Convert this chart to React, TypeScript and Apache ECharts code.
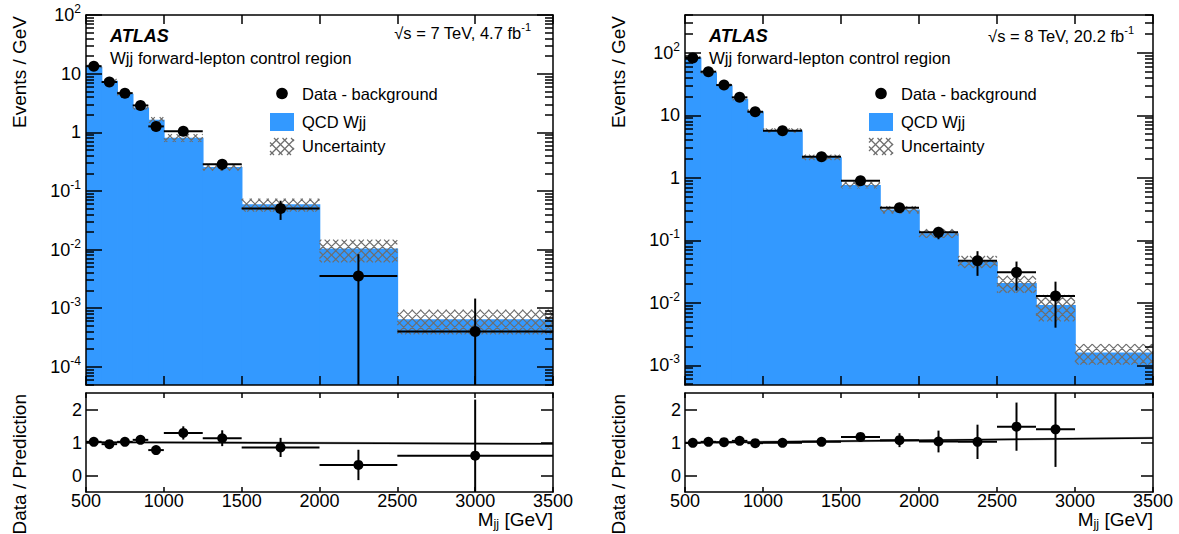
import { useEffect, useRef } from 'react';
import * as echarts from 'echarts';

const FONT = '"Liberation Sans", Arial, Helvetica, sans-serif';
const BLUE = '#3399ff';
const HATCH = '#6e6e6e';

// ---------- common axis values ----------
const xRange = [500, 3500];
const xInterval = 500;
const ratioRange = [-0.5, 2.5];
const ratioTicks = [0, 1, 2];

// ---------- 7 TeV panel ----------
const edges7 = [500, 600, 700, 800, 900, 1000, 1250, 1500, 2000, 2500, 3500];
const pred7 = [13.1, 7.6, 4.55, 2.65, 1.63, 0.81, 0.255, 0.059, 0.0104, 0.00065];
const unc7 = [0.07, 0.07, 0.08, 0.08, 0.11, 0.15, 0.13, 0.25, 0.42, 0.45];
const dataX7 = [550, 650, 750, 850, 950, 1125, 1375, 1750, 2250, 3000];
const data7 = [13.4, 7.2, 4.65, 2.87, 1.26, 1.04, 0.284, 0.05, 0.00355, 0.0004];
const dataErr7 = [0.67, 0.36, 0.28, 0.21, 0.11, 0.16, 0.06, 0.018, 0.0048, 0.00106];
const ratio7 = [1.02, 0.95, 1.02, 1.08, 0.77, 1.29, 1.13, 0.85, 0.32, 0.6];
const ratioErr7 = [0.05, 0.05, 0.06, 0.08, 0.07, 0.2, 0.24, 0.29, 0.46, 1.7];
const fit7 = [1.01, 0.96];
const yRange7 = [4.9e-5, 100];
const yMajor7 = [1e-4, 1e-3, 1e-2, 1e-1, 1, 10, 100];

// ---------- 8 TeV panel ----------
const edges8 = [500, 600, 700, 800, 900, 1000, 1250, 1500, 1750, 2000, 2250, 2500, 2750, 3000, 3500];
const pred8 = [84, 49, 30.2, 18.5, 11.6, 5.73, 2.14, 0.77, 0.31, 0.13, 0.046, 0.0207, 0.0092, 0.0016];
const unc8 = [0.05, 0.05, 0.06, 0.06, 0.07, 0.08, 0.1, 0.12, 0.13, 0.16, 0.22, 0.3, 0.45, 0.36];
const dataX8 = [550, 650, 750, 850, 950, 1125, 1375, 1625, 1875, 2125, 2375, 2625, 2875];
const data8 = [83, 49.9, 30.5, 19.4, 11.4, 5.67, 2.18, 0.9, 0.333, 0.134, 0.047, 0.0307, 0.0129];
const dataErr8 = [1.5, 1.2, 0.9, 0.7, 0.5, 0.25, 0.1, 0.05, 0.03, 0.03, 0.02, 0.015, 0.0089];
const ratio8 = [0.99, 1.02, 1.01, 1.05, 0.98, 0.99, 1.02, 1.17, 1.07, 1.03, 1.02, 1.48, 1.4];
const ratioErr8 = [0.03, 0.03, 0.03, 0.04, 0.04, 0.05, 0.05, 0.07, 0.21, 0.33, 0.52, 0.73, 1.14];
const fit8 = [0.99, 1.14];
const yRange8 = [4.84e-4, 403];
const yMajor8 = [1e-3, 1e-2, 1e-1, 1, 10, 100];

// ---------- texts ----------
const atlasLabel = 'ATLAS';
const regionLabel = 'Wjj forward-lepton control region';
const energy7 = '√s = 7 TeV, 4.7 fb{sup|-1}';
const energy8 = '√s = 8 TeV, 20.2 fb{sup|-1}';
const legendLabels = ['Data - background', 'QCD Wjj', 'Uncertainty'];
const yTitleMain = 'Events / GeV';
const yTitleRatio = 'Data / Prediction';
const xTitle = '{b|M}{sub|jj}{b| [GeV]}';

function minorTicks(min: number, max: number): number[] {
  const out: number[] = [];
  for (let e = Math.floor(Math.log10(min)); e <= Math.ceil(Math.log10(max)); e++) {
    for (let m = 2; m <= 9; m++) {
      const v = m * Math.pow(10, e);
      if (v >= min && v <= max) out.push(v);
    }
  }
  return out;
}

const HP = 8.5;
function hatchSegments(x0: number, y0: number, x1: number, y1: number): number[][] {
  const segs: number[][] = [];
  for (let k = Math.ceil((y0 - x1) / HP); k * HP <= y1 - x0; k++) {
    const c = k * HP;
    const xa = Math.max(x0, y0 - c);
    const xb = Math.min(x1, y1 - c);
    if (xb > xa) segs.push([xa, xa + c, xb, xb + c]);
  }
  for (let k = Math.ceil((x0 + y0) / HP); k * HP <= x1 + y1; k++) {
    const c = k * HP;
    const xa = Math.max(x0, c - y1);
    const xb = Math.min(x1, c - y0);
    if (xb > xa) segs.push([xa, c - xa, xb, c - xb]);
  }
  return segs;
}
function hatchPath(x0: number, y0: number, x1: number, y1: number): string {
  return hatchSegments(x0, y0, x1, y1)
    .map((s) => `M${s[0].toFixed(2)} ${s[1].toFixed(2)}L${s[2].toFixed(2)} ${s[3].toFixed(2)}`)
    .join('');
}

const renderFill = (params: any, api: any) => {
  const cs = params.coordSys;
  const a = api.coord([api.value(0), api.value(2)]);
  const b = api.coord([api.value(1), api.value(2)]);
  const bottom = cs.y + cs.height;
  const top = Math.max(cs.y, Math.min(bottom, a[1]));
  const rightEdge = Math.min(cs.x + cs.width, b[0] + 0.8);
  return {
    type: 'rect',
    shape: { x: a[0], y: top, width: rightEdge - a[0], height: bottom - top },
    style: { fill: BLUE },
  };
};

const renderHatch = (params: any, api: any) => {
  const cs = params.coordSys;
  const lo = api.value(0), hi = api.value(1), v = api.value(2), u = api.value(3);
  const a = api.coord([lo, v * (1 + u)]);
  const b = api.coord([hi, v * (1 - u)]);
  const y0 = Math.max(cs.y, a[1]);
  const y1 = Math.min(cs.y + cs.height, b[1]);
  if (y1 <= y0) return null;
  return {
    type: 'path',
    shape: { pathData: hatchPath(a[0], y0, b[0], y1) },
    style: { stroke: HATCH, lineWidth: 1.2, fill: 'none' },
  };
};

const makeRenderPoints = (isLog: boolean, r: number) => (params: any, api: any) => {
  const cs = params.coordSys;
  const x = api.value(0), y = api.value(1), lo = api.value(2), hi = api.value(3), e = api.value(4);
  const c = api.coord([x, y]);
  const left = api.coord([lo, y])[0];
  const right = api.coord([hi, y])[0];
  const top = Math.max(cs.y, api.coord([x, y + e])[1]);
  const bottom = isLog && y - e <= 0 ? cs.y + cs.height : Math.min(cs.y + cs.height, api.coord([x, y - e])[1]);
  const ls = { stroke: '#000', lineWidth: 2 };
  return {
    type: 'group',
    children: [
      { type: 'line', shape: { x1: left, y1: c[1], x2: right, y2: c[1] }, style: ls },
      { type: 'line', shape: { x1: c[0], y1: top, x2: c[0], y2: bottom }, style: ls },
      { type: 'circle', shape: { cx: c[0], cy: c[1], r }, style: { fill: '#000' } },
    ],
  };
};

const renderFit = (params: any, api: any) => {
  const x0 = api.value(0), f0 = api.value(1), x1 = api.value(2), f1 = api.value(3);
  const w = 0.035;
  const p1 = api.coord([x0, f0 + w]);
  const p2 = api.coord([x1, f1 + w]);
  const p3 = api.coord([x1, f1 - w]);
  const p4 = api.coord([x0, f0 - w]);
  const a = api.coord([x0, f0]);
  const b = api.coord([x1, f1]);
  return {
    type: 'group',
    children: [
      { type: 'polygon', shape: { points: [p1, p2, p3, p4] }, style: { fill: 'rgba(90,90,90,0.55)' } },
      { type: 'line', shape: { x1: a[0], y1: a[1], x2: b[0], y2: b[1] }, style: { stroke: '#000', lineWidth: 1.5 } },
    ],
  };
};

const lineStyle = { color: '#000', width: 1.5 };

function logLabel(v: number): string {
  const e = Math.round(Math.log10(v));
  if (e === 0) return '1';
  if (e === 1) return '10';
  return `10{sup|${e}}`;
}

interface Panel {
  left: number;
  width: number;
  edges: number[];
  pred: number[];
  unc: number[];
  dx: number[];
  dy: number[];
  de: number[];
  rv: number[];
  re: number[];
  fit: number[];
  yRange: number[];
  yMajor: number[];
  energy: string;
  energyX: number;
  energyY: number;
  xo: number;
}

const MAIN_TOP = 15;
const MAIN_H = 370;
const RATIO_TOP = 393;
const RATIO_H = 99;

function buildPanel(p: number, cfg: Panel) {
  const g = p * 3;
  const xb = p * 5;
  const yb = p * 6;
  const grids = [
    { left: cfg.left, top: MAIN_TOP, width: cfg.width, height: MAIN_H },
    { left: cfg.left, top: MAIN_TOP, width: cfg.width, height: MAIN_H },
    { left: cfg.left, top: RATIO_TOP, width: cfg.width, height: RATIO_H },
  ];
  const xAxisDef = (grid: number, pos: string, len: number, labels: boolean) => ({
    gridIndex: grid,
    type: 'value',
    position: pos,
    min: xRange[0],
    max: xRange[1],
    interval: xInterval,
    z: 10,
    axisLine: { show: true, onZero: false, lineStyle },
    axisTick: { show: true, inside: true, length: len, lineStyle },
    axisLabel: labels
      ? {
          show: true,
          margin: 1,
          color: '#000',
          fontSize: 18,
          fontFamily: FONT,
          lineHeight: 16,
          formatter: (v: number) => String(v),
        }
      : { show: false },
    splitLine: { show: false },
  });
  const xAxes = [
    xAxisDef(g, 'bottom', 9, false),
    xAxisDef(g, 'top', 9, false),
    { gridIndex: g + 1, type: 'value', min: xRange[0], max: xRange[1], show: false },
    xAxisDef(g + 2, 'bottom', 5, true),
    xAxisDef(g + 2, 'top', 5, false),
  ];
  const minors = minorTicks(cfg.yRange[0], cfg.yRange[1]);
  const logAxis = (grid: number, pos: string, major: boolean, labels: boolean) => ({
    gridIndex: grid,
    type: 'log',
    logBase: 10,
    position: pos,
    min: cfg.yRange[0],
    max: cfg.yRange[1],
    z: 10,
    axisLine: { show: major, onZero: false, lineStyle },
    axisTick: {
      show: true,
      inside: true,
      length: major ? 16 : 8,
      customValues: major ? cfg.yMajor : minors,
      lineStyle,
    },
    axisLabel: labels
      ? {
          show: true,
          customValues: cfg.yMajor,
          formatter: logLabel,
          margin: 5,
          color: '#000',
          fontSize: 18,
          fontFamily: FONT,
          lineHeight: 24,
          rich: {
            sup: { fontSize: 12, fontFamily: FONT, color: '#000', verticalAlign: 'top', lineHeight: 12 },
          },
        }
      : { show: false },
    splitLine: { show: false },
  });
  const ratioAxis = (pos: string, labels: boolean) => ({
    gridIndex: g + 2,
    type: 'value',
    position: pos,
    min: ratioRange[0],
    max: ratioRange[1],
    z: 10,
    axisLine: { show: true, onZero: false, lineStyle },
    axisTick: { show: true, inside: true, length: 12, customValues: ratioTicks, lineStyle },
    axisLabel: labels
      ? { show: true, customValues: ratioTicks, margin: 4, color: '#000', fontSize: 18, fontFamily: FONT }
      : { show: false },
    splitLine: { show: false },
  });
  const yAxes = [
    logAxis(g, 'left', true, true),
    logAxis(g, 'right', true, false),
    logAxis(g + 1, 'left', false, false),
    logAxis(g + 1, 'right', false, false),
    ratioAxis('left', true),
    ratioAxis('right', false),
  ];

  const binData = cfg.pred.map((v, i) => [cfg.edges[i], cfg.edges[i + 1], v]);
  const uncData = cfg.pred.map((v, i) => [cfg.edges[i], cfg.edges[i + 1], v, cfg.unc[i]]);
  const ptData = cfg.dx.map((x, i) => [x, cfg.dy[i], cfg.edges[i], cfg.edges[i + 1], cfg.de[i]]);
  const rtData = cfg.dx.map((x, i) => [x, cfg.rv[i], cfg.edges[i], cfg.edges[i + 1], cfg.re[i]]);

  const series = [
    {
      type: 'custom',
      coordinateSystem: 'cartesian2d',
      xAxisIndex: xb,
      yAxisIndex: yb,
      renderItem: renderFill,
      encode: { x: [0, 1], y: 2 },
      data: binData,
      z: 1,
      silent: true,
    },
    {
      type: 'custom',
      coordinateSystem: 'cartesian2d',
      xAxisIndex: xb,
      yAxisIndex: yb,
      renderItem: renderHatch,
      encode: { x: [0, 1], y: 2 },
      data: uncData,
      z: 2,
      silent: true,
    },
    {
      type: 'custom',
      coordinateSystem: 'cartesian2d',
      xAxisIndex: xb,
      yAxisIndex: yb,
      renderItem: makeRenderPoints(true, 5.5),
      encode: { x: [0, 2, 3], y: 1 },
      data: ptData,
      z: 3,
      silent: true,
    },
    {
      type: 'custom',
      coordinateSystem: 'cartesian2d',
      xAxisIndex: xb + 3,
      yAxisIndex: yb + 4,
      renderItem: renderFit,
      encode: { x: [0, 2], y: [1, 3] },
      data: [[xRange[0], cfg.fit[0], xRange[1], cfg.fit[1]]],
      z: 2,
      silent: true,
    },
    {
      type: 'custom',
      coordinateSystem: 'cartesian2d',
      xAxisIndex: xb + 3,
      yAxisIndex: yb + 4,
      renderItem: makeRenderPoints(false, 5),
      encode: { x: [0, 2, 3], y: 1 },
      data: rtData,
      z: 3,
      silent: true,
    },
  ];

  const xo = cfg.xo;
  const right = cfg.left + cfg.width;
  const graphics: any[] = [
    {
      type: 'text',
      x: 110 + xo,
      y: 35.5,
      style: { text: atlasLabel, font: `italic bold 18px ${FONT}`, fill: '#000', textAlign: 'left', textVerticalAlign: 'middle' },
    },
    {
      type: 'text',
      x: 110 + xo,
      y: 58.5,
      style: { text: regionLabel, font: `16.8px ${FONT}`, fill: '#000', textAlign: 'left', textVerticalAlign: 'middle' },
    },
    {
      type: 'text',
      x: cfg.energyX,
      y: cfg.energyY,
      style: {
        text: cfg.energy,
        font: `16.5px ${FONT}`,
        fill: '#000',
        textAlign: 'right',
        textVerticalAlign: 'middle',
        lineHeight: 22,
        rich: { sup: { fontSize: 11, fontFamily: FONT, fill: '#000', verticalAlign: 'top', lineHeight: 11 } },
      },
    },
    { type: 'circle', shape: { cx: 282 + xo, cy: 93.5, r: 5.8 }, style: { fill: '#000' } },
    { type: 'rect', shape: { x: 270 + xo, y: 113, width: 24, height: 18 }, style: { fill: BLUE } },
    ...hatchSegments(270 + xo, 138, 294 + xo, 155).map((s) => ({
      type: 'line',
      shape: { x1: s[0], y1: s[1], x2: s[2], y2: s[3] },
      style: { stroke: HATCH, lineWidth: 1.2 },
    })),
    ...legendLabels.map((t, i) => ({
      type: 'text',
      x: 302 + xo,
      y: [93.5, 121.5, 145.5][i],
      style: { text: t, font: `16.5px ${FONT}`, fill: '#000', textAlign: 'left', textVerticalAlign: 'middle' },
    })),
    {
      type: 'text',
      x: 19 + xo,
      y: 16,
      rotation: Math.PI / 2,
      style: { text: yTitleMain, font: `19px ${FONT}`, fill: '#000', textAlign: 'right', textVerticalAlign: 'middle' },
    },
    {
      type: 'text',
      x: 19 + xo,
      y: 394,
      rotation: Math.PI / 2,
      style: { text: yTitleRatio, font: `19px ${FONT}`, fill: '#000', textAlign: 'right', textVerticalAlign: 'middle' },
    },
    {
      type: 'text',
      x: right,
      y: 510,
      style: {
        text: xTitle,
        fill: '#000',
        textAlign: 'right',
        textVerticalAlign: 'top',
        rich: {
          b: { fontSize: 19, fontFamily: FONT, fill: '#000', verticalAlign: 'top', lineHeight: 20 },
          sub: { fontSize: 12.5, fontFamily: FONT, fill: '#000', verticalAlign: 'bottom', lineHeight: 10 },
        },
      },
    },
  ];
  return { grids, xAxes, yAxes, series, graphics };
}

export default function App() {
  const ref = useRef<HTMLDivElement>(null);
  useEffect(() => {
    if (!ref.current) return;
    const chart = echarts.init(ref.current, null, { renderer: 'svg' });
    const panels = [
      buildPanel(0, {
        left: 86, width: 467, edges: edges7, pred: pred7, unc: unc7, dx: dataX7, dy: data7, de: dataErr7,
        rv: ratio7, re: ratioErr7, fit: fit7, yRange: yRange7, yMajor: yMajor7,
        energy: energy7, energyX: 531, energyY: 32.5, xo: 0,
      }),
      buildPanel(1, {
        left: 685, width: 468, edges: edges8, pred: pred8, unc: unc8, dx: dataX8, dy: data8, de: dataErr8,
        rv: ratio8, re: ratioErr8, fit: fit8, yRange: yRange8, yMajor: yMajor8,
        energy: energy8, energyX: 1134, energyY: 35.5, xo: 599,
      }),
    ];
    const option: any = {
      animation: false,
      grid: panels.flatMap((p) => p.grids),
      xAxis: panels.flatMap((p) => p.xAxes),
      yAxis: panels.flatMap((p) => p.yAxes),
      series: panels.flatMap((p) => p.series),
      graphic: { elements: panels.flatMap((p) => p.graphics) },
    };
    chart.setOption(option);
    return () => chart.dispose();
  }, []);
  return (
    <div
      ref={ref}
      style={{ position: 'absolute', left: 0, top: 0, width: 1179, height: 534, background: '#fff' }}
    />
  );
}
